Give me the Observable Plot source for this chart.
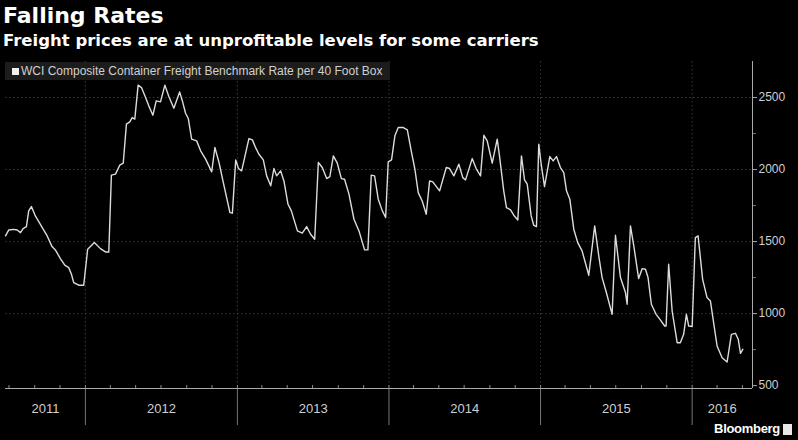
<!DOCTYPE html>
<html>
<head>
<meta charset="utf-8">
<script src="https://cdn.jsdelivr.net/npm/d3@7"></script>
<script src="https://cdn.jsdelivr.net/npm/@observablehq/plot@0.6"></script>
<style>
  html, body { margin: 0; padding: 0; background: #000; }
  #wrap { position: relative; width: 798px; height: 440px; background: #000; overflow: hidden; }
  #title { position: absolute; left: 3px; top: 3px; font: bold 22px "DejaVu Sans", sans-serif; color: #fff; white-space: nowrap; }
  #subtitle { position: absolute; left: 3px; top: 31px; font: bold 16.5px "DejaVu Sans", sans-serif; color: #fff; white-space: nowrap; }
  #chart { position: absolute; left: 0; top: 58px; }
  #legend { position: absolute; left: 5px; top: 62px; width: 385px; height: 18px; background: #1c1c1c; z-index: 2;
            font: 12px "Liberation Sans", sans-serif; color: #d0d0d0; line-height: 18px; white-space: nowrap; }
  #legend .sw { display: inline-block; width: 7px; height: 7px; background: #f0f0f0; margin: 0 2px 0 7px; vertical-align: 0px; }
  #brand { position: absolute; right: 18px; top: 421px; font: bold 13px "Liberation Sans", sans-serif; color: #fff; letter-spacing: -0.3px; }
  #logo { position: absolute; left: 783px; top: 424px; width: 9px; height: 11px; background: #e8e8e8; }
</style>
</head>
<body>
<div id="wrap">
  <div id="title">Falling Rates</div>
  <div id="subtitle">Freight prices are at unprofitable levels for some carriers</div>
  <div id="chart"></div>
  <div id="legend"><span class="sw"></span>WCI Composite Container Freight Benchmark Rate per 40 Foot Box</div>
  <div id="brand">Bloomberg</div>
  <div id="logo"></div>
</div>
<script>
// Decimal-year timestamps of readings
const times = [
  2011.473, 2011.494, 2011.527, 2011.550, 2011.572, 2011.589, 2011.611, 2011.626, 2011.644, 2011.670,
  2011.703, 2011.748, 2011.780, 2011.802, 2011.835, 2011.864, 2011.890, 2011.908, 2011.923, 2011.956,
  2011.989, 2012.015, 2012.033, 2012.059, 2012.099, 2012.132, 2012.154, 2012.171, 2012.198, 2012.226,
  2012.249, 2012.270, 2012.292, 2012.308, 2012.325, 2012.347, 2012.369, 2012.396, 2012.417, 2012.444,
  2012.466, 2012.494, 2012.523, 2012.549, 2012.582, 2012.620, 2012.641, 2012.659, 2012.677, 2012.699,
  2012.732, 2012.758, 2012.791, 2012.831, 2012.852, 2012.879, 2012.905, 2012.934, 2012.951, 2012.967,
  2012.989, 2013.007, 2013.028, 2013.076, 2013.099, 2013.121, 2013.142, 2013.171, 2013.193, 2013.220,
  2013.241, 2013.259, 2013.285, 2013.307, 2013.334, 2013.356, 2013.396, 2013.428, 2013.457, 2013.483,
  2013.510, 2013.534, 2013.560, 2013.589, 2013.610, 2013.633, 2013.659, 2013.686, 2013.707, 2013.736,
  2013.769, 2013.802, 2013.839, 2013.861, 2013.883, 2013.905, 2013.929, 2013.956, 2013.978, 2013.995,
  2014.017, 2014.039, 2014.061, 2014.092, 2014.121, 2014.149, 2014.171, 2014.193, 2014.219, 2014.246,
  2014.268, 2014.289, 2014.334, 2014.378, 2014.400, 2014.428, 2014.461, 2014.487, 2014.505, 2014.549,
  2014.575, 2014.604, 2014.626, 2014.648, 2014.681, 2014.714, 2014.729, 2014.757, 2014.775, 2014.802,
  2014.823, 2014.850, 2014.874, 2014.894, 2014.912, 2014.938, 2014.955, 2014.973, 2014.988, 2015.004,
  2015.026, 2015.061, 2015.083, 2015.105, 2015.131, 2015.153, 2015.171, 2015.193, 2015.219, 2015.245,
  2015.274, 2015.318, 2015.357, 2015.384, 2015.406, 2015.434, 2015.472, 2015.494, 2015.527, 2015.560,
  2015.571, 2015.593, 2015.615, 2015.647, 2015.670, 2015.692, 2015.709, 2015.731, 2015.762, 2015.790,
  2015.819, 2015.828, 2015.845, 2015.868, 2015.901, 2015.922, 2015.944, 2015.962, 2015.977, 2016.000,
  2016.021, 2016.039, 2016.069, 2016.098, 2016.120, 2016.164, 2016.197, 2016.230, 2016.258, 2016.285,
  2016.303, 2016.318, 2016.333
];
// WCI composite rate, USD per 40ft box
const rates = [
  1540, 1580, 1585, 1580, 1562, 1590, 1604, 1713, 1743, 1678,
  1620, 1539, 1465, 1442, 1382, 1336, 1319, 1273, 1215, 1197,
  1197, 1447, 1465, 1493, 1451, 1428, 1428, 1961, 1968, 2030,
  2044, 2315, 2331, 2361, 2350, 2586, 2569, 2500, 2442, 2377,
  2477, 2470, 2586, 2507, 2426, 2539, 2465, 2391, 2354, 2211,
  2199, 2130, 2072, 1984, 2153, 2049, 1921, 1782, 1701, 1697,
  2067, 2007, 1991, 2215, 2206, 2150, 2106, 2067, 1956, 1887,
  2007, 1956, 1991, 1921, 1759, 1713, 1574, 1558, 1604, 1551,
  1516, 2049, 2014, 1937, 1951, 2095, 2044, 1937, 1933, 1829,
  1655, 1574, 1442, 1442, 1961, 1956, 1794, 1713, 1667, 2053,
  2067, 2234, 2292, 2292, 2275, 2118, 2002, 1840, 1782, 1690,
  1921, 1914, 1852, 2014, 2007, 1956, 2037, 1944, 1928, 2076,
  2007, 1956, 2238, 2199, 2044, 2211, 2095, 1852, 1736, 1720,
  1683, 1650, 2095, 1928, 1898, 1678, 1613, 1604, 2176, 2037,
  1882, 2090, 2060, 2090, 2014, 1979, 1852, 1794, 1586, 1493,
  1435, 1266, 1609, 1400, 1250, 1146, 995, 1544, 1250, 1146,
  1065, 1609, 1470, 1243, 1312, 1308, 1250, 1065, 995, 956,
  914, 914, 1343, 1018, 798, 798, 856, 995, 914, 910,
  1528, 1539, 1238, 1111, 1088, 775, 694, 664, 856, 863,
  822, 724, 752
];
const yearLabels = ["2011", "2012", "2013", "2014", "2015", "2016"];
const yTicks = [500, 1000, 1500, 2000, 2500];
const yMinorTicks = [750, 1250, 1750, 2250];
const xDomainYears = [2011.473, 2016.397];
const yDomain = [480, 2750];

function toDate(t) {
  const y = Math.floor(t);
  const a = Date.UTC(y, 0, 1), b = Date.UTC(y + 1, 0, 1);
  return new Date(a + (t - y) * (b - a));
}

const data = times.map((t, i) => ({date: toDate(t), rate: rates[i]}));
const d0 = toDate(xDomainYears[0]), d1 = toDate(xDomainYears[1]);
const yearStarts = yearLabels.slice(1).map(y => new Date(Date.UTC(+y, 0, 1)));
const labelData = yearLabels.map(y => {
  const s = new Date(Math.max(Date.UTC(+y, 0, 1), +d0));
  const e = new Date(Math.min(Date.UTC(+y + 1, 0, 1), +d1));
  return {label: y, mid: new Date((+s + +e) / 2)};
});
const minorX = d3.utcMonth.every(2).range(d0, d1);

const frameH = 382 - 3 - 52;

const chart = Plot.plot({
  width: 798,
  height: 382,
  marginLeft: 5,
  marginRight: 46,
  marginTop: 3,
  marginBottom: 52,
  style: {background: "#000", color: "#cfcfcf", fontFamily: "Liberation Sans, sans-serif", fontSize: "12px", overflow: "visible"},
  x: {type: "utc", domain: [d0, d1], axis: null},
  y: {domain: yDomain, axis: null},
  marks: [
    Plot.ruleY(yTicks.slice(1), {stroke: "#3a3a3a", strokeDasharray: "1.5,2.5"}),
    Plot.ruleX(yearStarts, {stroke: "#3a3a3a", strokeDasharray: "1.5,2.5"}),
    Plot.ruleX(yearStarts, {stroke: "#777", insetTop: frameH, insetBottom: -37}),
    Plot.ruleX(minorX, {stroke: "#888", insetTop: frameH - 3}),
    Plot.ruleY([yDomain[0]], {stroke: "#aaa", strokeWidth: 1}),
    Plot.ruleX([d1], {stroke: "#aaa", strokeWidth: 1}),
    Plot.axisY({anchor: "right", ticks: yTicks, tickSize: 4, tickPadding: 2, fontSize: 12, stroke: "#aaa", color: "#cfcfcf", tickFormat: d => String(d), label: null}),
    Plot.axisY({anchor: "right", ticks: yMinorTicks, tickSize: 3, tickFormat: () => "", stroke: "#777", label: null}),
    Plot.lineY(data, {x: "date", y: "rate", stroke: "#dcdcdc", strokeWidth: 1.4, curve: "linear"}),
    Plot.text(labelData, {x: "mid", text: "label", frameAnchor: "bottom", dy: 24, fill: "#cfcfcf", fontSize: 13})
  ]
});
document.getElementById("chart").appendChild(chart);
</script>
</body>
</html>
